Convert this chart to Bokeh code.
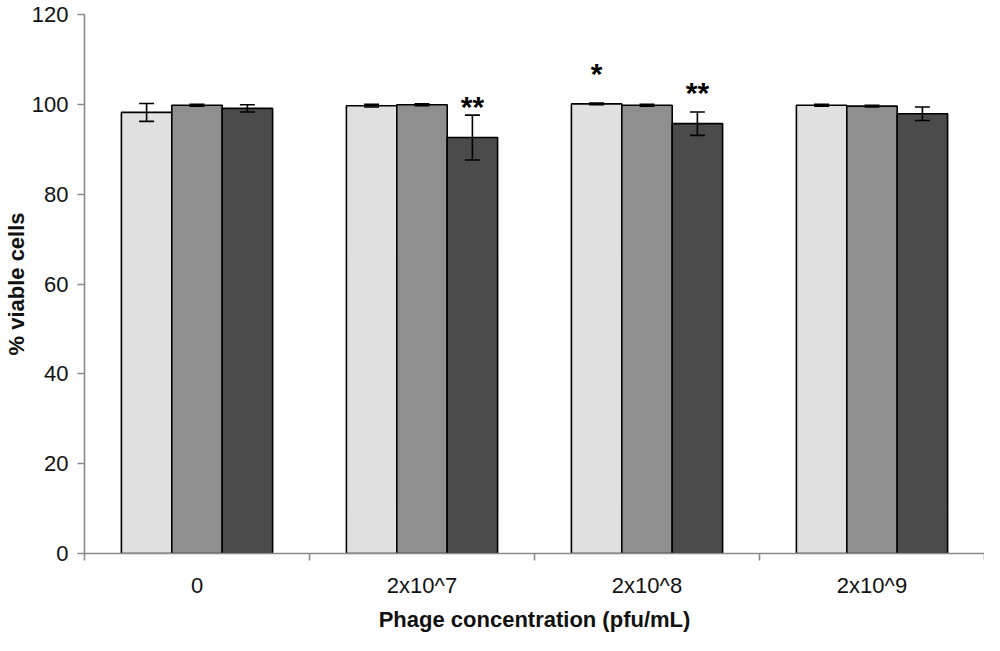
from bokeh.plotting import figure
from bokeh.models import (ColumnDataSource, Range1d, FixedTicker, Whisker, TeeHead, Title)
from bokeh.core.properties import value
from bokeh.embed import file_html
from bokeh.resources import INLINE

# ---- data ----
categories = ["0", "2x10^7", "2x10^8", "2x10^9"]
series_light = [98.2, 99.7, 100.1, 99.8]
err_light = [2.0, 0.3, 0.2, 0.2]
series_mid = [99.8, 99.9, 99.8, 99.6]
err_mid = [0.2, 0.2, 0.2, 0.2]
series_dark = [99.1, 92.6, 95.7, 97.9]
err_dark = [0.8, 5.0, 2.6, 1.5]
y_ticks = [0, 20, 40, 60, 80, 100, 120]

# significance marks: category, series index, text, y position of the mark
sig_cats = ["2x10^7", "2x10^8", "2x10^8"]
sig_series = [2, 0, 2]
sig_text = ["**", "*", "**"]
sig_y = [100.3, 107.8, 103.5]

colors = ["#e0e0e0", "#8f8f8f", "#4b4b4b"]
bar_w = 0.224
offsets = [-bar_w, 0.0, bar_w]
FONT = "Liberation Sans"

ncat = len(categories)
centers = [k + 0.5 for k in range(ncat)]          # category slots on a 0..ncat scale
bounds = list(range(ncat + 1))

p = figure(x_range=Range1d(0, ncat), y_range=Range1d(0, 120),
           width=984, height=635, output_backend="svg", toolbar_location=None,
           min_border_left=74, min_border_right=0, min_border_top=14, min_border_bottom=60)
p.outline_line_color = None
p.xgrid.visible = False
p.ygrid.visible = False
p.background_fill_color = "white"

series = [(series_light, err_light), (series_mid, err_mid), (series_dark, err_dark)]
for i, (vals, errs) in enumerate(series):
    xs = [c + offsets[i] for c in centers]
    src = ColumnDataSource(dict(x=xs, top=vals,
                                lo=[v - e for v, e in zip(vals, errs)],
                                hi=[v + e for v, e in zip(vals, errs)]))
    p.vbar(x="x", top="top", bottom=0, width=bar_w, source=src,
           fill_color=colors[i], line_color="black", line_width=1.6)
    w = Whisker(source=src, base="x", lower="lo", upper="hi", level="overlay",
                line_color="black", line_width=1.6,
                upper_head=TeeHead(size=15, line_color="black", line_width=1.6),
                lower_head=TeeHead(size=15, line_color="black", line_width=1.6))
    p.add_layout(w)

    rows = [k for k in range(len(sig_cats)) if sig_series[k] == i]
    if rows:
        ssrc = ColumnDataSource(dict(
            x=[centers[categories.index(sig_cats[k])] + offsets[i] for k in rows],
            y=[sig_y[k] for k in rows],
            t=[sig_text[k] for k in rows]))
        p.text(x="x", y="y", text="t", source=ssrc, text_font=value(FONT),
               text_font_style="bold", text_font_size="30px", text_align="center",
               text_baseline="alphabetic", y_offset=4, text_color="black")

# y axis
ya = p.yaxis[0]
ya.ticker = FixedTicker(ticks=y_ticks)
ya.axis_line_color = "#8a8a8a"
ya.axis_line_width = 1.6
ya.major_tick_line_color = "#8a8a8a"
ya.major_tick_line_width = 1.6
ya.major_tick_in = 0
ya.major_tick_out = 7
ya.minor_tick_line_color = None
ya.major_label_standoff = 9
ya.major_label_text_font = FONT
ya.major_label_text_font_size = "22px"
ya.major_label_text_color = "#111111"
ya.axis_label = "% viable cells"
ya.axis_label_text_font = FONT
ya.axis_label_text_font_style = "bold"
ya.axis_label_text_font_size = "22px"
ya.axis_label_text_color = "#111111"
ya.axis_label_standoff = 0

# x axis: names at slot centres (major), boundary ticks as minor ticks
xa = p.xaxis[0]
xa.ticker = FixedTicker(ticks=centers, minor_ticks=bounds)
xa.major_label_overrides = {c: name for c, name in zip(centers, categories)}
xa.axis_line_color = "#8a8a8a"
xa.axis_line_width = 1.6
xa.major_tick_line_color = None
xa.major_tick_in = 0
xa.major_tick_out = 0
xa.minor_tick_line_color = "#8a8a8a"
xa.minor_tick_line_width = 1.6
xa.minor_tick_in = 0
xa.minor_tick_out = 7
xa.major_label_standoff = 12
xa.major_label_text_font = FONT
xa.major_label_text_font_size = "22px"
xa.major_label_text_color = "#111111"

xtitle = Title(text="Phage concentration (pfu/mL)", align="center",
               text_font=FONT, text_font_style="bold", text_font_size="22px",
               text_color="#111111", standoff=8, offset=0)
p.add_layout(xtitle, "below")

open("out.html", "w").write(file_html(p, INLINE))
